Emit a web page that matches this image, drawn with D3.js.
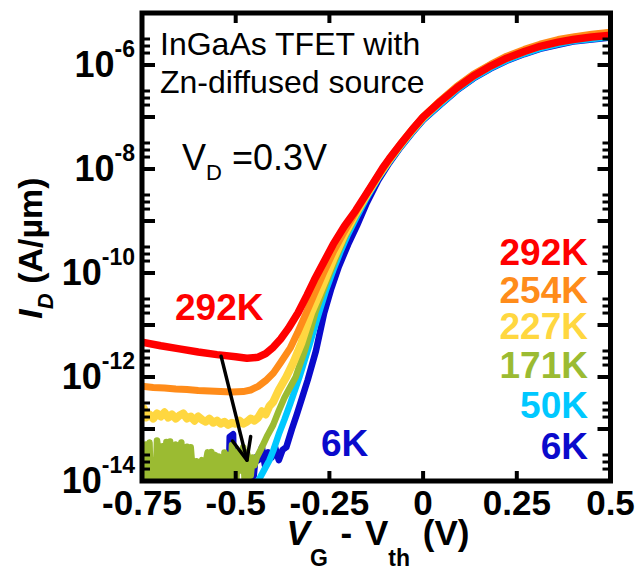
<!DOCTYPE html>
<html>
<head>
<meta charset="utf-8">
<script src="https://cdn.jsdelivr.net/npm/d3@7"></script>
<style>
  html, body { margin: 0; padding: 0; background: #fff; }
  svg { display: block; }
  text { font-family: "Liberation Sans", Arial, Helvetica, sans-serif; }
</style>
</head>
<body>
<svg id="chart" width="639" height="573"></svg>
<script>
// Transfer characteristics I_D vs (V_G - V_th) at several temperatures.
// Each series: [V_G - V_th (V), log10 I_D (A/um)]
const temps = ["292K", "254K", "227K", "171K", "50K", "6K"];
const colors = ["#ff0000", "#ff8c1a", "#ffd740", "#9bbb32", "#00c8ff", "#0a0acc"];

const xTicks = [-0.75, -0.5, -0.25, 0, 0.25, 0.5];
const xTickLabels = ["-0.75", "-0.5", "-0.25", "0", "0.25", "0.5"];
const yTickExps = [-14, -12, -10, -8, -6];
const yDecades = [-14, -13, -12, -11, -10, -9, -8, -7, -6, -5];
const yMinorFrac = [0.5, 0.635, 0.77];

const s292 = [[-0.75,-11.33],[-0.70,-11.40],[-0.65,-11.46],[-0.60,-11.52],[-0.55,-11.57],[-0.50,-11.61],[-0.47,-11.64],[-0.44,-11.62],[-0.42,-11.55],[-0.40,-11.43],[-0.38,-11.27],[-0.36,-11.07],[-0.334,-10.77],[-0.31,-10.43],[-0.29,-10.13],[-0.267,-9.82],[-0.24,-9.45],[-0.21,-9.10],[-0.18,-8.80],[-0.15,-8.46],[-0.12,-8.12],[-0.107,-7.97],[-0.09,-7.80],[-0.06,-7.52],[-0.03,-7.25],[0,-7.0],[0.045,-6.71],[0.09,-6.44],[0.134,-6.21],[0.18,-6.02],[0.223,-5.87],[0.27,-5.74],[0.312,-5.64],[0.36,-5.56],[0.40,-5.51],[0.45,-5.46],[0.5,-5.43]];

const s254 = [[-0.75,-12.18],[-0.72,-12.20],[-0.69,-12.21],[-0.66,-12.23],[-0.63,-12.24],[-0.60,-12.26],[-0.57,-12.27],[-0.54,-12.28],[-0.51,-12.29],[-0.48,-12.28],[-0.46,-12.25],[-0.44,-12.18],[-0.42,-12.07],[-0.40,-11.93],[-0.38,-11.72],[-0.355,-11.45],[-0.335,-11.15],[-0.312,-10.77],[-0.29,-10.40],[-0.267,-10.02],[-0.24,-9.60],[-0.21,-9.20],[-0.18,-8.83],[-0.15,-8.47],[-0.12,-8.13],[-0.09,-7.81],[-0.06,-7.52],[-0.03,-7.25],[0,-7.0],[0.045,-6.69],[0.09,-6.41],[0.134,-6.18],[0.18,-5.99],[0.223,-5.83],[0.27,-5.70],[0.312,-5.60],[0.36,-5.51],[0.40,-5.46],[0.45,-5.41],[0.5,-5.37]];

const s227 = [[-0.75,-12.70],[-0.745,-12.60],[-0.74,-12.78],[-0.73,-12.72],[-0.72,-12.80],[-0.71,-12.70],[-0.70,-12.76],[-0.69,-12.68],[-0.68,-12.78],[-0.67,-12.72],[-0.66,-12.80],[-0.65,-12.74],[-0.64,-12.70],[-0.63,-12.80],[-0.62,-12.76],[-0.61,-12.84],[-0.60,-12.76],[-0.59,-12.82],[-0.58,-12.86],[-0.57,-12.80],[-0.56,-12.88],[-0.55,-12.84],[-0.54,-12.90],[-0.53,-12.86],[-0.52,-12.92],[-0.51,-12.88],[-0.50,-12.90],[-0.49,-12.84],[-0.48,-12.90],[-0.47,-12.86],[-0.46,-12.80],[-0.45,-12.84],[-0.44,-12.78],[-0.43,-12.66],[-0.42,-12.72],[-0.41,-12.56],[-0.40,-12.48],[-0.385,-12.25],[-0.365,-12.0],[-0.345,-11.7],[-0.325,-11.35],[-0.299,-10.77],[-0.28,-10.45],[-0.26,-10.10],[-0.24,-9.74],[-0.21,-9.26],[-0.18,-8.86],[-0.15,-8.49],[-0.12,-8.14],[-0.09,-7.82],[-0.06,-7.53],[-0.03,-7.26],[0,-7.01],[0.045,-6.71],[0.09,-6.43],[0.134,-6.20],[0.18,-6.01],[0.223,-5.86],[0.27,-5.73],[0.312,-5.63],[0.36,-5.54],[0.40,-5.48],[0.45,-5.43],[0.5,-5.39]];

const s171 = [[-0.75,-13.25],[-0.745,-14.5],[-0.74,-13.3],[-0.735,-13.45],[-0.73,-13.26],[-0.725,-14.5],[-0.72,-13.6],[-0.715,-14.4],[-0.71,-13.22],[-0.705,-13.5],[-0.70,-14.5],[-0.695,-13.33],[-0.69,-14.2],[-0.685,-13.25],[-0.68,-13.9],[-0.675,-13.24],[-0.67,-14.5],[-0.665,-13.4],[-0.66,-13.3],[-0.655,-14.3],[-0.65,-13.5],[-0.645,-13.26],[-0.64,-14.5],[-0.635,-13.6],[-0.63,-13.34],[-0.625,-14.4],[-0.62,-13.35],[-0.615,-13.8],[-0.61,-14.5],[-0.605,-13.62],[-0.60,-14.5],[-0.595,-13.7],[-0.59,-13.6],[-0.585,-14.4],[-0.58,-13.65],[-0.575,-13.45],[-0.57,-14.5],[-0.565,-13.44],[-0.56,-13.7],[-0.555,-13.5],[-0.55,-14.3],[-0.545,-13.53],[-0.54,-13.6],[-0.535,-14.5],[-0.53,-13.45],[-0.525,-13.7],[-0.52,-13.5],[-0.515,-14.4],[-0.51,-13.31],[-0.505,-13.6],[-0.50,-14.3],[-0.495,-13.44],[-0.49,-13.5],[-0.485,-13.8],[-0.48,-13.35],[-0.475,-14.2],[-0.47,-13.45],[-0.465,-13.6],[-0.46,-13.9],[-0.455,-13.55],[-0.45,-13.7],[-0.444,-13.55],[-0.43,-13.35],[-0.415,-13.12],[-0.40,-12.92],[-0.385,-12.65],[-0.37,-12.4],[-0.355,-12.2],[-0.34,-12.0],[-0.314,-11.45],[-0.288,-10.77],[-0.27,-10.4],[-0.25,-10.02],[-0.23,-9.66],[-0.21,-9.32],[-0.18,-8.9],[-0.15,-8.5],[-0.12,-8.15],[-0.09,-7.83],[-0.06,-7.54],[-0.03,-7.27],[0,-7.02],[0.045,-6.72],[0.09,-6.44],[0.134,-6.21],[0.18,-6.02],[0.223,-5.87],[0.27,-5.74],[0.312,-5.64],[0.36,-5.55],[0.40,-5.49],[0.45,-5.44],[0.5,-5.40]];

const s50 = [[-0.75,-14.6],[-0.47,-14.6],[-0.455,-14.2],[-0.44,-14.0],[-0.425,-13.8],[-0.41,-13.6],[-0.40,-13.42],[-0.385,-13.1],[-0.37,-12.82],[-0.355,-12.52],[-0.33,-12.0],[-0.304,-11.4],[-0.278,-10.77],[-0.26,-10.35],[-0.24,-9.95],[-0.22,-9.58],[-0.2,-9.25],[-0.177,-8.92],[-0.15,-8.55],[-0.12,-8.18],[-0.09,-7.86],[-0.06,-7.57],[-0.03,-7.30],[0,-7.05],[0.045,-6.76],[0.09,-6.48],[0.134,-6.25],[0.18,-6.06],[0.223,-5.91],[0.27,-5.78],[0.312,-5.68],[0.36,-5.60],[0.40,-5.54],[0.45,-5.50],[0.5,-5.46]];

const s6 = [[-0.75,-14.6],[-0.52,-14.6],[-0.516,-13.15],[-0.507,-13.1],[-0.503,-14.6],[-0.47,-14.6],[-0.462,-13.85],[-0.452,-13.9],[-0.447,-13.55],[-0.44,-13.6],[-0.43,-13.35],[-0.422,-13.7],[-0.413,-13.45],[-0.404,-13.55],[-0.395,-13.35],[-0.385,-13.6],[-0.375,-13.4],[-0.365,-13.35],[-0.35,-13.0],[-0.337,-12.72],[-0.322,-12.38],[-0.308,-12.06],[-0.286,-11.5],[-0.264,-10.77],[-0.245,-10.3],[-0.225,-9.88],[-0.2,-9.45],[-0.177,-9.1],[-0.15,-8.65],[-0.12,-8.22],[-0.09,-7.88],[-0.06,-7.58],[-0.03,-7.31],[0,-7.06],[0.045,-6.77],[0.09,-6.49],[0.134,-6.26],[0.18,-6.07],[0.223,-5.92],[0.27,-5.79],[0.312,-5.69],[0.36,-5.61],[0.40,-5.55],[0.45,-5.51],[0.5,-5.47]];

const seriesData = [s292, s254, s227, s171, s50, s6];
// drawing order: coldest first so the 292K curve sits on top
const drawOrder = [5, 4, 3, 2, 1, 0];
const strokeWidths = [7.5, 7, 8, 6.5, 6.5, 6.5];

// annotation arrow (V_G - V_th, log10 I_D): from the 292K minimum down to the low-T floor
const arrowFrom = [-0.539, -11.6];
const arrowTo = [-0.47, -13.6];

(function draw() {
  const plotL = 142, plotR = 610.5, plotT = 13, plotB = 481;
  const svg = d3.select("#chart");

  const x = d3.scaleLinear().domain([-0.75, 0.5]).range([plotL, plotR]);
  const y = d3.scaleLog().domain([1e-14, 1e-5]).range([plotB, plotT]);
  const yl = v => y(Math.pow(10, v));

  svg.append("defs").append("clipPath").attr("id", "plotclip")
    .append("rect").attr("x", plotL).attr("y", plotT)
    .attr("width", plotR - plotL).attr("height", plotB - plotT);

  const line = d3.line()
    .x(d => x(d[0]))
    .y(d => yl(d[1]))
    .curve(d3.curveLinear);

  const curves = svg.append("g").attr("clip-path", "url(#plotclip)");
  drawOrder.forEach(i => {
    curves.append("path")
      .datum(seriesData[i])
      .attr("d", line)
      .attr("fill", "none")
      .attr("stroke", colors[i])
      .attr("stroke-width", strokeWidths[i])
      .attr("stroke-linejoin", "round")
      .attr("stroke-linecap", "butt");
  });

  // arrow
  const a0 = [x(arrowFrom[0]), yl(arrowFrom[1])];
  const a1 = [x(arrowTo[0]), yl(arrowTo[1])];
  const ang = Math.atan2(a1[1] - a0[1], a1[0] - a0[0]);
  const headLen = 24, headAng = 0.4;
  const arrowG = svg.append("g").attr("stroke", "#000").attr("stroke-width", 3.5).attr("fill", "none")
    .attr("stroke-linecap", "round").attr("stroke-linejoin", "round");
  arrowG.append("path").attr("d", d3.line()([a0, a1]));
  arrowG.append("path").attr("d", d3.line()([
    [a1[0] - headLen * Math.cos(ang - headAng), a1[1] - headLen * Math.sin(ang - headAng)],
    a1,
    [a1[0] - headLen * Math.cos(ang + headAng), a1[1] - headLen * Math.sin(ang + headAng)]
  ]));

  // frame
  const axisG = svg.append("g");
  axisG.append("rect").attr("x", plotL).attr("y", plotT)
    .attr("width", plotR - plotL).attr("height", plotB - plotT)
    .attr("fill", "none").attr("stroke", "#000").attr("stroke-width", 5);

  // x ticks (bottom and top, inward)
  xTicks.forEach(t => {
    const px = x(t);
    axisG.append("line").attr("x1", px).attr("x2", px).attr("y1", plotB).attr("y2", plotB - 10)
      .attr("stroke", "#000").attr("stroke-width", 4);
    axisG.append("line").attr("x1", px).attr("x2", px).attr("y1", plotT).attr("y2", plotT + 10)
      .attr("stroke", "#000").attr("stroke-width", 4);
  });

  // y ticks (left and right, inward)
  yDecades.forEach(e => {
    const py = yl(e);
    axisG.append("line").attr("x1", plotL).attr("x2", plotL + 13).attr("y1", py).attr("y2", py)
      .attr("stroke", "#000").attr("stroke-width", 4);
    axisG.append("line").attr("x1", plotR).attr("x2", plotR - 13).attr("y1", py).attr("y2", py)
      .attr("stroke", "#000").attr("stroke-width", 4);
    yMinorFrac.forEach(f => {
      const v = e - f;
      if (v <= -14) return;
      const pm = yl(v);
      axisG.append("line").attr("x1", plotL).attr("x2", plotL + 8).attr("y1", pm).attr("y2", pm)
        .attr("stroke", "#000").attr("stroke-width", 3);
      axisG.append("line").attr("x1", plotR).attr("x2", plotR - 8).attr("y1", pm).attr("y2", pm)
        .attr("stroke", "#000").attr("stroke-width", 3);
    });
  });

  // x tick labels
  xTicks.forEach((t, i) => {
    svg.append("text").attr("x", x(t)).attr("y", 515)
      .attr("text-anchor", "middle").attr("font-size", 35).attr("font-weight", "bold")
      .text(xTickLabels[i]);
  });

  // y tick labels 10^n
  yTickExps.forEach(e => {
    const py = yl(e);
    const t = svg.append("text").attr("x", 135).attr("y", py + 12)
      .attr("text-anchor", "end").attr("font-weight", "bold");
    t.append("tspan").attr("font-size", 36).text("10");
    t.append("tspan").attr("font-size", 23).attr("dy", -20).text(String(e));
  });

  // y-axis title
  const yt = svg.append("text")
    .attr("transform", "translate(42,248) rotate(-90)")
    .attr("text-anchor", "middle").attr("font-weight", "bold").attr("font-size", 34);
  yt.append("tspan").attr("font-style", "italic").text("I");
  yt.append("tspan").attr("font-style", "italic").attr("font-size", 22).attr("dy", 11).text("D");
  yt.append("tspan").attr("dy", -11).text(" (A/\u00b5m)");

  // x-axis title
  const xt = svg.append("text").attr("x", 378).attr("y", 545)
    .attr("text-anchor", "middle").attr("font-weight", "bold").attr("font-size", 35)
    .attr("word-spacing", 3);
  xt.append("tspan").attr("font-style", "italic").text("V");
  xt.append("tspan").attr("font-size", 23).attr("dy", 21).text("G");
  xt.append("tspan").attr("dy", -21).text(" - V");
  xt.append("tspan").attr("font-size", 23).attr("dy", 21).text("th");
  xt.append("tspan").attr("dy", -21).text(" (V)");

  // device description
  svg.append("text").attr("x", 160).attr("y", 55).attr("font-size", 32).text("InGaAs TFET with");
  svg.append("text").attr("x", 160).attr("y", 93).attr("font-size", 32).text("Zn-diffused source");

  const vd = svg.append("text").attr("x", 182).attr("y", 170).attr("font-size", 36);
  vd.append("tspan").text("V");
  vd.append("tspan").attr("font-size", 22).attr("dy", 10).text("D");
  vd.append("tspan").attr("dy", -10).text(" =0.3V");

  // temperature legend (right side)
  const legendBase = [265, 303, 339, 378, 418, 459];
  temps.forEach((tk, i) => {
    svg.append("text").attr("x", 588).attr("y", legendBase[i])
      .attr("text-anchor", "end").attr("font-size", 37).attr("font-weight", "bold")
      .attr("fill", colors[i]).text(tk);
  });

  // in-plot labels
  svg.append("text").attr("x", 175).attr("y", 320).attr("font-size", 37).attr("font-weight", "bold")
    .attr("fill", colors[0]).text(temps[0]);
  svg.append("text").attr("x", 321).attr("y", 456).attr("font-size", 37).attr("font-weight", "bold")
    .attr("fill", colors[5]).text(temps[5]);
})();
</script>
</body>
</html>
